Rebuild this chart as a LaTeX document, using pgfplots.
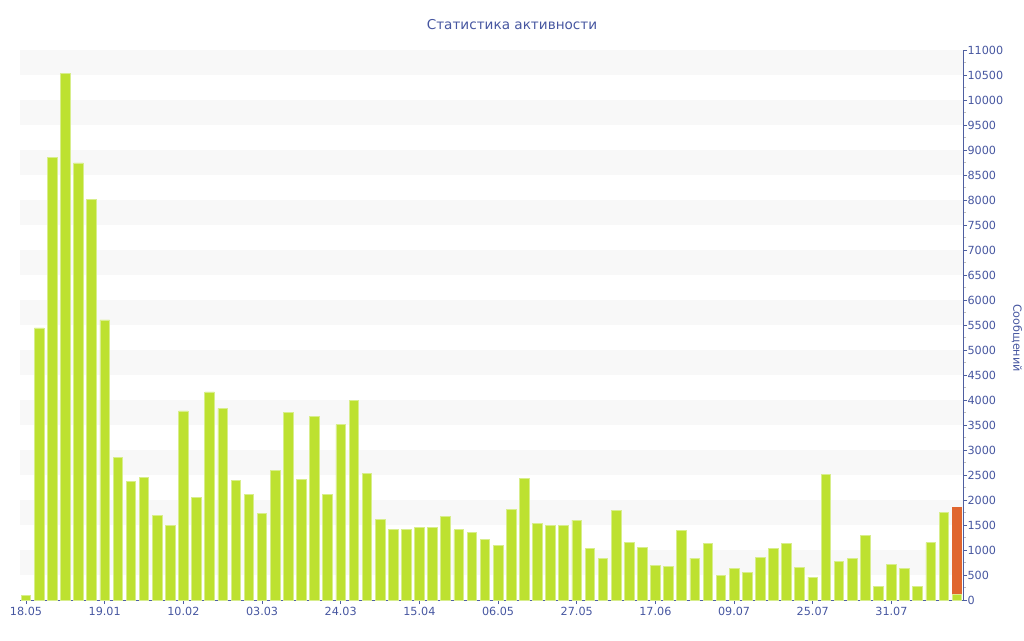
\documentclass[border=0pt]{standalone}
\usepackage{pgfplots}
\pgfplotsset{compat=1.18}
\usepackage{fontspec}
\setmainfont{DejaVu Sans}
\definecolor{barG}{RGB}{189,225,48}
\definecolor{barEdge}{RGB}{216,238,140}
\definecolor{barO}{RGB}{224,102,47}
\definecolor{axBlue}{RGB}{78,94,160}
\definecolor{txtBlue}{RGB}{70,86,160}
\definecolor{band}{RGB}{248,248,248}
\begin{document}
\begin{tikzpicture}
\begin{axis}[
  at={(20pt,40pt)}, anchor=south west,
  scale only axis, width=943pt, height=550pt,
  xmin=-0.46, xmax=71.46, ymin=0, ymax=11000,
  axis x line*=bottom, axis y line*=right,
  axis line style={axBlue, line width=0.8pt},
  ytick={0,500,...,11000}, minor y tick num=1,
  xtick={0,6,...,66},
  xticklabels={18.05,19.01,10.02,03.03,24.03,15.04,06.05,27.05,17.06,09.07,25.07,31.07},
  tick align=outside,
  major tick length=4pt, minor tick length=3pt,
  tick style={axBlue, line width=0.8pt},
  minor tick style={gray!50, line width=0.8pt},
  ticklabel style={font=\fontsize{11.2}{13}\selectfont, text=txtBlue},
  /pgf/number format/assume math mode=true,
  scaled y ticks=false,
  yticklabel style={/pgf/number format/1000 sep={}, xshift=-3pt},
  ybar, bar width=9.6pt, bar shift=0pt,
]
\pgfplotsinvokeforeach{500,1500,...,10500}{
  \fill[band] (axis cs:-0.46,#1) rectangle (axis cs:71.46,#1+500);
}
\addplot[fill=barO, draw=none] coordinates {(71,1860)};
\addplot[fill=barG, draw=barEdge, line width=0.7pt] coordinates {
(0,100) (1,5440) (2,8845) (3,10530) (4,8740) (5,8005) (6,5600) (7,2855)
(8,2365) (9,2450) (10,1685) (11,1495) (12,3780) (13,2045) (14,4160) (15,3830)
(16,2390) (17,2120) (18,1740) (19,2585) (20,3755) (21,2420) (22,3665) (23,2120)
(24,3505) (25,3995) (26,2530) (27,1615) (28,1405) (29,1420) (30,1460) (31,1460)
(32,1670) (33,1405) (34,1350) (35,1220) (36,1100) (37,1810) (38,2425) (39,1525)
(40,1490) (41,1490) (42,1600) (43,1035) (44,840) (45,1795) (46,1145) (47,1060)
(48,700) (49,680) (50,1400) (51,840) (52,1140) (53,495) (54,640) (55,545)
(56,845) (57,1040) (58,1140) (59,655) (60,460) (61,2505) (62,775) (63,835)
(64,1295) (65,268) (66,720) (67,625) (68,280) (69,1150) (70,1755) (71,120)
};
\end{axis}
\node[text=txtBlue, font=\fontsize{13.6}{16}\selectfont] at (512pt,615pt) {Статистика активности};
\node[text=txtBlue, rotate=-90, font=\fontsize{11.2}{13}\selectfont] at (1017pt,302pt) {Сообщений};
\pgfresetboundingbox
\useasboundingbox (0,0) rectangle (1024pt,640pt);
\end{tikzpicture}
\end{document}
